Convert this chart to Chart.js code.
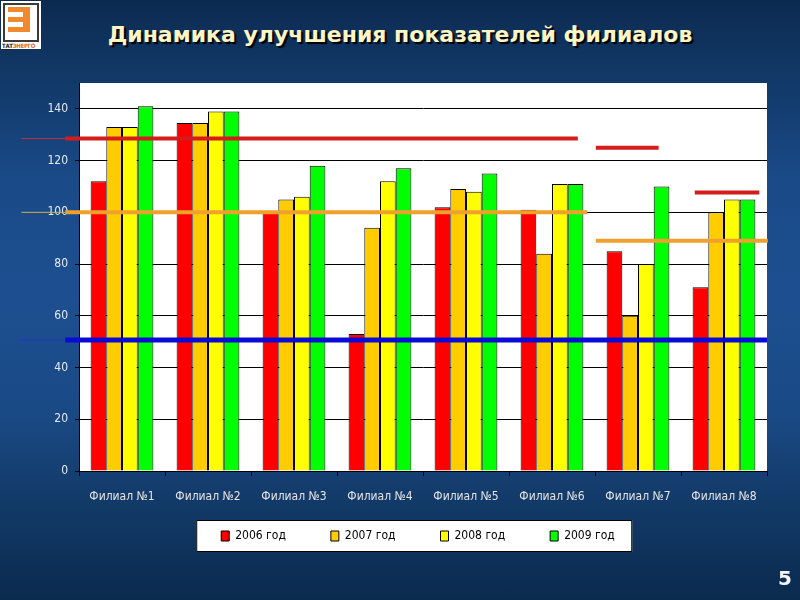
<!DOCTYPE html>
<html lang="ru">
<head>
<meta charset="utf-8">
<title>Динамика улучшения показателей филиалов</title>
<script src="https://cdn.jsdelivr.net/npm/chart.js@4.4.0/dist/chart.umd.min.js"></script>
<style>
  html, body { margin: 0; padding: 0; }
  body {
    width: 800px; height: 600px; overflow: hidden; position: relative;
    background: linear-gradient(to bottom, #0c2a50 0%, #113866 12%, #1a4a88 30%, #1d4f90 50%, #1a4a86 68%, #123a68 84%, #0b2a4e 100%);
  }
  #chart { position: absolute; left: 0; top: 0; }
  #title {
    position: absolute; left: 0; top: 22px; width: 800px; text-align: center;
    font: bold 22px "DejaVu Sans", sans-serif; color: #fdf5c4;
    text-shadow: 2px 2px 1px #000;
  }
  #logo { position: absolute; left: 1px; top: 1px; width: 40px; height: 48px; background: #fff; }
  #logo .frame { position: absolute; left: 2px; top: 2px; width: 32px; height: 35px; border: 2px solid #3a3a3a; background: #fff; }
  #logo .mark { position: absolute; left: 7px; top: 6px; width: 22px; height: 25px; background: #f08a2c; }
  #logo .cut1, #logo .cut2 { position: absolute; left: 7px; width: 15px; height: 5px; background: #fff; }
  #logo .cut1 { top: 11px; }
  #logo .cut2 { top: 21px; }
  #logo .name { position: absolute; left: 1px; top: 41px; font: bold 6px "DejaVu Sans Condensed", sans-serif; color: #e86a1c; letter-spacing: -0.3px; }
  #logo .name b { color: #222; text-decoration: underline; }
  #page {
    position: absolute; left: 778px; top: 566px;
    font: bold 20px "DejaVu Sans", sans-serif; color: #f4f4f4;
  }
</style>
</head>
<body>
<div id="logo">
  <div class="frame"></div>
  <div class="mark"></div>
  <div class="cut1"></div>
  <div class="cut2"></div>
  <div class="name"><b>ТАТ</b>ЭНЕРГО</div>
</div>
<div id="title">Динамика улучшения показателей филиалов</div>
<canvas id="chart" width="800" height="600"></canvas>
<div id="page">5</div>
<script>
// categories and series
const branches = ['Филиал №1', 'Филиал №2', 'Филиал №3', 'Филиал №4', 'Филиал №5', 'Филиал №6', 'Филиал №7', 'Филиал №8'];
const years = ['2006 год', '2007 год', '2008 год', '2009 год'];
const values2006 = [112, 134.5, 100, 53, 102, 101, 85, 71];
const values2007 = [133, 134.5, 105, 94, 109, 84, 60, 100];
const values2008 = [133, 139, 106, 112, 108, 111, 80, 105];
const values2009 = [141, 139, 118, 117, 115, 111, 110, 105];
const yTicks = [0, 20, 40, 60, 80, 100, 120, 140];

// level lines drawn over the bars: [from, to, level], from/to in branch units (0 = left edge of plot)
const redLevels = [[-0.16, 5.8, 128.5], [6.01, 6.74, 125], [7.16, 7.91, 107.7]];
const orangeLevels = [[-0.16, 5.91, 100], [6.01, 8.01, 89]];
const blueLevels = [[-0.16, 8.0, 50.6]];
// thin lead-ins of the same lines left of the axis
const redLeadIn = [[-0.67, -0.16, 128.5]];
const orangeLeadIn = [[-0.67, -0.16, 100]];
const blueLeadIn = [[-0.72, -0.16, 50.6]];

const barColors = ['#ff0000', '#ffcc00', '#ffff00', '#00ff00'];
const series = [values2006, values2007, values2008, values2009];

const labelFont = '"Liberation Sans Narrow", "DejaVu Sans Condensed", sans-serif';

// one x scale (linear, branch i sits at i + 0.5) for bars and lines
let datasets = [];
for (let i = 0; i < series.length; i++) {
  datasets.push({
    type: 'bar',
    label: years[i],
    data: series[i].map(function (v, k) { return { x: k + 0.5, y: v }; }),
    backgroundColor: barColors[i],
    borderColor: '#000',
    borderWidth: 1,
    categoryPercentage: 0.73,
    barPercentage: 1,
    order: 2
  });
}

function addLevels(list, color, width) {
  list.forEach(function (seg) {
    datasets.push({
      type: 'line',
      data: [{ x: seg[0], y: seg[2] }, { x: seg[1], y: seg[2] }],
      borderColor: color,
      borderWidth: width,
      borderCapStyle: 'butt',
      pointRadius: 0,
      clip: false,
      order: 1
    });
  });
}
addLevels(redLevels, '#d41c1c', 4);
addLevels(orangeLevels, '#f0a02c', 4);
addLevels(blueLevels, '#0a0ad6', 5);
addLevels(redLeadIn, '#c83040', 1);
addLevels(orangeLeadIn, '#d8b040', 1);
addLevels(blueLeadIn, '#2a30c8', 1);

// white plot area, white frame behind the legend, legend pulled up under the branch names
const plotBackground = {
  id: 'plotBackground',
  afterLayout(chart) {
    const lg = chart.legend;
    lg.top -= 26;
    lg.bottom -= 26;
    lg.left -= 5;
    lg.right -= 5;
  },
  beforeDraw(chart) {
    const ctx = chart.ctx;
    const a = chart.chartArea;
    ctx.save();
    ctx.fillStyle = '#ffffff';
    ctx.fillRect(a.left, a.top, a.right - a.left, a.bottom - a.top);

    const boxes = chart.legend.legendHitBoxes;
    if (boxes && boxes.length) {
      const first = boxes[0];
      const left = first.left - 25;
      const mid = first.top + first.height / 2;
      ctx.fillRect(left, mid - 16, 436, 32);
      ctx.strokeStyle = '#000';
      ctx.lineWidth = 1;
      ctx.strokeRect(left + 0.5, mid - 15.5, 435, 31);
    }
    ctx.restore();
  }
};

new Chart(document.getElementById('chart'), {
  type: 'bar',
  data: { datasets: datasets },
  options: {
    responsive: false,
    animation: false,
    layout: { padding: { top: 83, right: 33, left: 0, bottom: 22 } },
    scales: {
      x: {
        type: 'linear',
        min: 0,
        max: 8,
        offset: false,
        grid: { offset: true, drawOnChartArea: false, color: '#000', tickLength: 5 },
        border: { display: true, color: '#000' },
        ticks: {
          color: '#e4e4e4',
          font: { family: labelFont, size: 12 },
          padding: 14,
          maxRotation: 0,
          autoSkip: false,
          callback: function (value, index) { return branches[index]; }
        },
        afterBuildTicks: function (scale) {
          scale.ticks = branches.map(function (b, k) { return { value: k + 0.5 }; });
        },
        afterFit: function (scale) { scale.height = 40; }
      },
      y: {
        min: 0,
        max: 150,
        ticks: { stepSize: 20, color: '#e4eaf4', font: { family: labelFont, size: 12 }, padding: 7 },
        grid: { color: '#000', tickLength: 4 },
        border: { display: true, color: '#000' },
        afterBuildTicks: function (scale) {
          scale.ticks = yTicks.map(function (v) { return { value: v }; });
        },
        afterFit: function (scale) { scale.width = 79; }
      }
    },
    plugins: {
      tooltip: { enabled: false },
      legend: {
        position: 'bottom',
        fullSize: false,
        labels: {
          color: '#000',
          font: { family: labelFont, size: 12 },
          boxWidth: 8,
          boxHeight: 10,
          padding: 45,
          filter: function (item) { return item.datasetIndex < 4; }
        }
      }
    }
  },
  plugins: [plotBackground]
});
</script>
</body>
</html>
